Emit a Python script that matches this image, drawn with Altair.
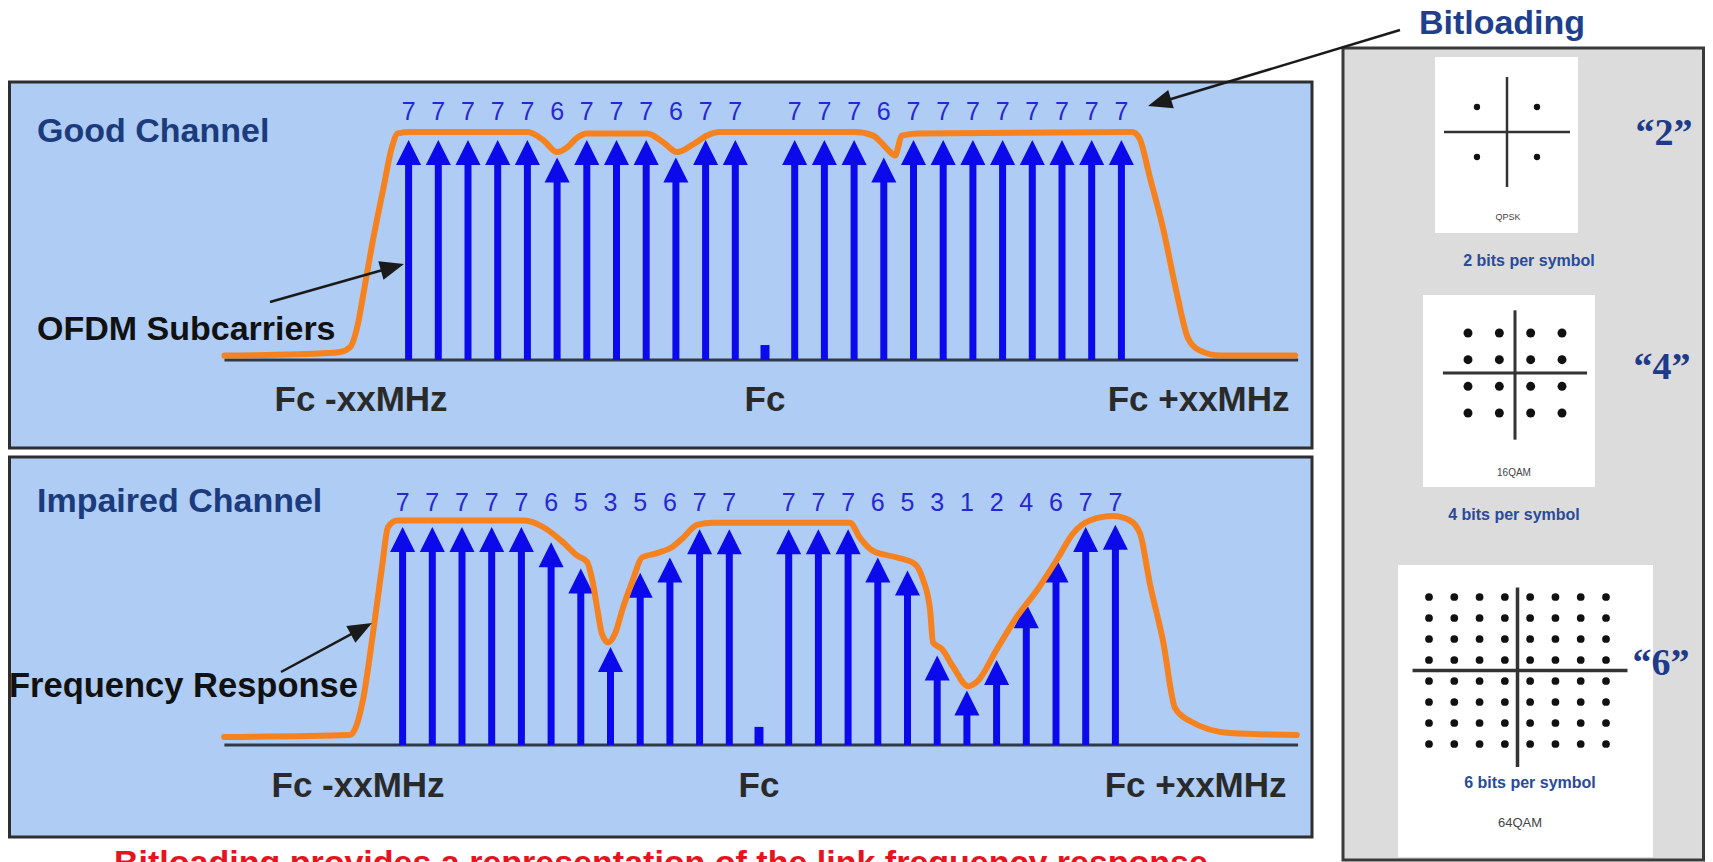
import math
import itertools
import pandas as pd
import altair as alt

# ---------------- values ----------------
carrier_k = [-12, -11, -10, -9, -8, -7, -6, -5, -4, -3, -2, -1,
             1, 2, 3, 4, 5, 6, 7, 8, 9, 10, 11, 12]

good_bits = [7, 7, 7, 7, 7, 6, 7, 7, 7, 6, 7, 7,
             7, 7, 7, 6, 7, 7, 7, 7, 7, 7, 7, 7]
good_tip = [1.0, 1.0, 1.0, 1.0, 1.0, 0.92, 1.0, 1.0, 1.0, 0.92, 1.0, 1.0,
            1.0, 1.0, 1.0, 0.92, 1.0, 1.0, 1.0, 1.0, 1.0, 1.0, 1.0, 1.0]

impaired_bits = [7, 7, 7, 7, 7, 6, 5, 3, 5, 6, 7, 7,
                 7, 7, 7, 6, 5, 3, 1, 2, 4, 6, 7, 7]
impaired_tip = [1.0, 1.0, 1.0, 1.0, 1.0, 0.93, 0.81, 0.45, 0.79, 0.86, 0.99, 0.99,
                0.99, 0.99, 0.99, 0.86, 0.80, 0.41, 0.25, 0.39, 0.65, 0.86, 1.0, 1.01]

dc_level = {"good": 0.068, "impaired": 0.083}

good_resp_k = [-18.2, -14.65, -14.31, -13.97, -13.70, -13.54, -13.20, -12.86, -12.56,
               -12.36, -11.95, -8.0, -7.47, -7.0, -6.63, -6.33, -6.0, -3.97, -3.43,
               -2.96, -2.42, -1.95, -1.52, 3.03, 3.64, 4.11, 4.38, 4.61, 5.15, 12.36,
               12.6, 12.96, 13.4, 13.87, 14.24, 14.61, 15.35, 17.85]
good_resp_a = [0.02, 0.032, 0.036, 0.059, 0.168, 0.286, 0.545, 0.773, 0.968,
               1.03, 1.036, 1.036, 1.0, 0.945, 0.97, 1.01, 1.03, 1.03, 0.99,
               0.945, 0.98, 1.02, 1.036, 1.036, 1.02, 0.96, 0.93, 1.02, 1.03, 1.036,
               1.01, 0.83, 0.60, 0.30, 0.10, 0.045, 0.02, 0.02]

imp_resp_k = [-18.01, -13.77, -13.33, -13.0, -12.69, -12.49, -12.19, -7.88, -7.27,
              -6.60, -6.13, -5.79, -5.59, -5.45, -5.29, -5.08, -4.85, -4.58, -4.24,
              -3.94, -3.43, -2.90, -2.56, -2.09, -1.55, 2.39, 3.06, 3.40, 3.84,
              4.65, 5.25, 5.52, 5.76, 5.86, 6.16, 6.53, 7.04, 7.34, 8.01, 8.69,
              9.36, 10.03, 10.57, 11.14, 11.92, 12.49, 12.83, 13.16, 13.60, 14.01,
              14.51, 15.86, 18.11]
imp_resp_a = [0.037, 0.046, 0.21, 0.51, 0.82, 1.0, 1.03, 1.03, 1.0,
              0.93, 0.87, 0.84, 0.74, 0.63, 0.51, 0.47, 0.51, 0.63, 0.76,
              0.86, 0.88, 0.91, 0.95, 1.01, 1.02, 1.02, 1.02, 0.95, 0.89,
              0.86, 0.83, 0.76, 0.62, 0.47, 0.44, 0.36, 0.27, 0.29, 0.44, 0.59,
              0.71, 0.85, 0.97, 1.03, 1.05, 1.03, 0.97, 0.74, 0.48, 0.17,
              0.11, 0.055, 0.046]

edge_labels = ["Fc -xxMHz", "Fc", "Fc +xxMHz"]
edge_label_k = {"good": [-13.6, 0.0, 14.6], "impaired": [-13.5, 0.0, 14.7]}

qpsk_levels = [-1, 1]
qam16_levels = [-3, -1, 1, 3]
qam64_levels = [-7, -5, -3, -1, 1, 3, 5, 7]

# ---------------- layout / style ----------------
OFF = 8
W, H = 1697, 872
SANS = "Liberation Sans, Arial, sans-serif"
SERIF = "Liberation Serif, Times New Roman, serif"
BLUE = "#0A0AEB"
NUM_BLUE = "#2828D2"
ORANGE = "#F5821F"
NAVY = "#1B3B7D"
RED = "#E5141E"
TRI = "M0,-1L1,1L-1,1Z"

PANEL_GEOM = {
    "good": dict(center=765, pitch=29.7, base=360, unit=220, numbers_y=119.5,
                 edge_y=411, span=(-18.2, 17.95)),
    "impaired": dict(center=759, pitch=29.7, base=745, unit=218, numbers_y=511,
                     edge_y=797, span=(-18.0, 18.15)),
}

CX = alt.Scale(domain=[0, 1713], range=[-OFF, 1713 - OFF], nice=False, zero=False)
CY = alt.Scale(domain=[0, 880], range=[-OFF, 880 - OFF], nice=False, zero=False)


def cxe(f):
    return alt.X(f"{f}:Q", scale=CX, axis=None)


def cye(f):
    return alt.Y(f"{f}:Q", scale=CY, axis=None)


frames = [
    ("good", 9.5, 82, 1312, 448, "#AECCF4", "#2E2E2E", 3),
    ("impaired", 9.5, 457, 1312, 837, "#AECCF4", "#2E2E2E", 3),
    ("gray", 1343, 48, 1703.5, 860, "#DCDCDC", "#3A3A3A", 3),
    ("qpsk", 1435, 57, 1578, 233, "#FFFFFF", "#FFFFFF", 0),
    ("qam16", 1423, 295, 1595, 487, "#FFFFFF", "#FFFFFF", 0),
    ("qam64", 1398, 565, 1653, 857, "#FFFFFF", "#FFFFFF", 0),
]
rect_df = pd.DataFrame(frames, columns=["name", "x", "y", "x2", "y2", "fill", "stroke", "sw"])
rects = alt.Chart(rect_df).mark_rect().encode(
    x=cxe("x"), x2="x2:Q", y=cye("y"), y2="y2:Q",
    fill=alt.Fill("fill:N", scale=None),
    stroke=alt.Stroke("stroke:N", scale=None),
    strokeWidth=alt.StrokeWidth("sw:Q", scale=None),
)


def panel_layers(name, bits, tips, resp_k, resp_a):
    g = PANEL_GEOM[name]
    xs = alt.Scale(domain=[-20, 20],
                   range=[g["center"] - OFF - 20 * g["pitch"], g["center"] - OFF + 20 * g["pitch"]],
                   nice=False, zero=False)
    ys = alt.Scale(domain=[0, 1], range=[g["base"] - OFF, g["base"] - OFF - g["unit"]],
                   nice=False, zero=False)

    def X(f):
        return alt.X(f"{f}:Q", scale=xs, axis=None)

    def Y(f):
        return alt.Y(f"{f}:Q", scale=ys, axis=None)

    car = pd.DataFrame({"k": carrier_k, "bits": [str(b) for b in bits], "tip": tips})
    base = alt.Chart(pd.DataFrame({"k": [g["span"][0]], "k2": [g["span"][1]], "a": [0.0]})).mark_rule(
        color="#2F3A46", strokeWidth=3).encode(x=X("k"), x2="k2:Q", y=Y("a"))
    shafts = alt.Chart(car).transform_calculate(top="datum.tip - 0.06").mark_rule(
        color=BLUE, strokeWidth=7).encode(x=X("k"), y=Y("top"), y2=alt.datum(0))
    heads = alt.Chart(car).mark_point(shape=TRI, filled=True, size=625, yOffset=12.5,
                                      color=BLUE, opacity=1, strokeWidth=0).encode(x=X("k"), y=Y("tip"))
    dc = alt.Chart(pd.DataFrame({"k": [0.0], "a": [dc_level[name]]})).mark_rule(
        color=BLUE, strokeWidth=9).encode(x=X("k"), y=Y("a"), y2=alt.datum(0))
    resp = alt.Chart(pd.DataFrame({"i": list(range(len(resp_k))), "k": resp_k, "a": resp_a})).mark_line(
        color=ORANGE, strokeWidth=6, interpolate="monotone", strokeCap="round", strokeJoin="round"
    ).encode(x=X("k"), y=Y("a"), order="i:Q")
    nums = alt.Chart(car).mark_text(font=SANS, fontSize=25, color=NUM_BLUE, baseline="alphabetic").encode(
        x=X("k"), y=alt.value(g["numbers_y"] - OFF), text="bits:N")
    edges = alt.Chart(pd.DataFrame({"k": edge_label_k[name], "label": edge_labels})).mark_text(
        font=SANS, fontSize=35, fontWeight="bold", color="#2A2A2A", baseline="alphabetic").encode(
        x=X("k"), y=alt.value(g["edge_y"] - OFF), text="label:N")
    return [base, shafts, heads, dc, resp, nums, edges]


def constellation_layers(levels, g):
    lo, hi = levels[0], levels[-1]
    xs = alt.Scale(domain=[lo, hi], range=[g["x_lo"] - OFF, g["x_hi"] - OFF], nice=False, zero=False)
    ys = alt.Scale(domain=[lo, hi], range=[g["y_lo"] - OFF, g["y_hi"] - OFF], nice=False, zero=False)
    pts = pd.DataFrame(list(itertools.product(levels, levels)), columns=["i", "q"])
    ax = pd.DataFrame({
        "i": [g["ai"][0], 0.0], "i2": [g["ai"][1], 0.0],
        "q": [0.0, g["aq"][0]], "q2": [0.0, g["aq"][1]],
    })
    axes = alt.Chart(ax).mark_rule(color="#333333", strokeWidth=g["aw"]).encode(
        x=alt.X("i:Q", scale=xs, axis=None), x2="i2:Q",
        y=alt.Y("q:Q", scale=ys, axis=None), y2="q2:Q")
    dots = alt.Chart(pts).mark_circle(size=g["dot"], color="#111111", opacity=1).encode(
        x=alt.X("i:Q", scale=xs, axis=None), y=alt.Y("q:Q", scale=ys, axis=None))
    return [axes, dots]


CONST_GEOM = [
    (qpsk_levels, dict(x_lo=1477, x_hi=1537, y_lo=157, y_hi=107, ai=(-2.1, 2.1), aq=(-2.2, 2.2), aw=2.5, dot=40)),
    (qam16_levels, dict(x_lo=1468, x_hi=1562, y_lo=413, y_hi=333, ai=(-4.6, 4.6), aq=(-5.0, 4.7), aw=3, dot=80)),
    (qam64_levels, dict(x_lo=1429, x_hi=1606, y_lo=744, y_hi=597, ai=(-8.3, 8.7), aq=(-9.2, 7.9), aw=3.5, dot=60)),
]

# annotation arrows: tail -> tip, in picture pixels
ann = [(1400, 30, 1148, 106), (270, 302, 404, 264), (281, 672, 372, 623)]
HEAD = 24
lines, heads = [], []
for tx, ty, px, py in ann:
    dx, dy = px - tx, py - ty
    d = math.hypot(dx, dy)
    ux, uy = dx / d, dy / d
    hx, hy = px - ux * HEAD / 2, py - uy * HEAD / 2
    lines.append(dict(x=tx, y=ty, x2=hx, y2=hy))
    ang = math.degrees(math.atan2(dx, -dy)) % 360
    heads.append(dict(x=hx, y=hy, ang=ang))
ann_lines = alt.Chart(pd.DataFrame(lines)).mark_rule(color="#1A1A1A", strokeWidth=2.5).encode(
    x=cxe("x"), x2="x2:Q", y=cye("y"), y2="y2:Q")
ann_heads = alt.Chart(pd.DataFrame(heads)).mark_point(
    shape="M0,-1L0.8,1L-0.8,1Z", filled=True, size=HEAD * HEAD, color="#1A1A1A", opacity=1, strokeWidth=0
).encode(x=cxe("x"), y=cye("y"), angle=alt.Angle("ang:Q", scale=None))

# texts (picture pixels, y = baseline)
left_bold = pd.DataFrame([
    dict(x=37, y=142, text="Good Channel", color=NAVY, fs=34),
    dict(x=37, y=340, text="OFDM Subcarriers", color="#111111", fs=34),
    dict(x=37, y=512, text="Impaired Channel", color=NAVY, fs=34),
    dict(x=9, y=697, text="Frequency Response", color="#111111", fs=34.5),
])
center_bold = pd.DataFrame([
    dict(x=1502, y=34, text="Bitloading", color="#1E3F8C", fs=34),
    dict(x=661, y=874, text="Bitloading provides a representation of the link frequency response", color=RED, fs=34),
    dict(x=1529, y=266, text="2 bits per symbol", color="#2A4A9A", fs=16),
    dict(x=1514, y=520, text="4 bits per symbol", color="#2A4A9A", fs=16),
    dict(x=1530, y=788, text="6 bits per symbol", color="#2A4A9A", fs=16),
])
serif_q = pd.DataFrame([
    dict(x=1664, y=145, text="\u201c2\u201d"),
    dict(x=1662, y=379, text="\u201c4\u201d"),
    dict(x=1661, y=675, text="\u201c6\u201d"),
])
small = pd.DataFrame([
    dict(x=1508, y=220, text="QPSK", fs=9),
    dict(x=1514, y=476, text="16QAM", fs=10),
    dict(x=1520, y=827, text="64QAM", fs=13),
])

t_left = alt.Chart(left_bold).mark_text(font=SANS, fontWeight="bold", align="left", baseline="alphabetic").encode(
    x=cxe("x"), y=cye("y"), text="text:N",
    color=alt.Color("color:N", scale=None), size=alt.Size("fs:Q", scale=None))
t_center = alt.Chart(center_bold).mark_text(font=SANS, fontWeight="bold", align="center", baseline="alphabetic").encode(
    x=cxe("x"), y=cye("y"), text="text:N",
    color=alt.Color("color:N", scale=None), size=alt.Size("fs:Q", scale=None))
t_serif = alt.Chart(serif_q).mark_text(font=SERIF, fontWeight="bold", fontSize=38, color="#1E3A8A",
                                       align="center", baseline="alphabetic").encode(
    x=cxe("x"), y=cye("y"), text="text:N")
t_small = alt.Chart(small).mark_text(font=SANS, color="#444444", align="center", baseline="alphabetic").encode(
    x=cxe("x"), y=cye("y"), text="text:N", size=alt.Size("fs:Q", scale=None))

layers = [rects]
layers += panel_layers("good", good_bits, good_tip, good_resp_k, good_resp_a)
layers += panel_layers("impaired", impaired_bits, impaired_tip, imp_resp_k, imp_resp_a)
for lv, g in CONST_GEOM:
    layers += constellation_layers(lv, g)
layers += [ann_lines, ann_heads, t_left, t_center, t_serif, t_small]

chart = alt.layer(*layers).resolve_scale(x="independent", y="independent").properties(
    width=W, height=H, padding=0, autosize="none", background="white"
).configure_view(stroke=None)

chart.save("out.html", embed_options={"renderer": "svg", "actions": False})
